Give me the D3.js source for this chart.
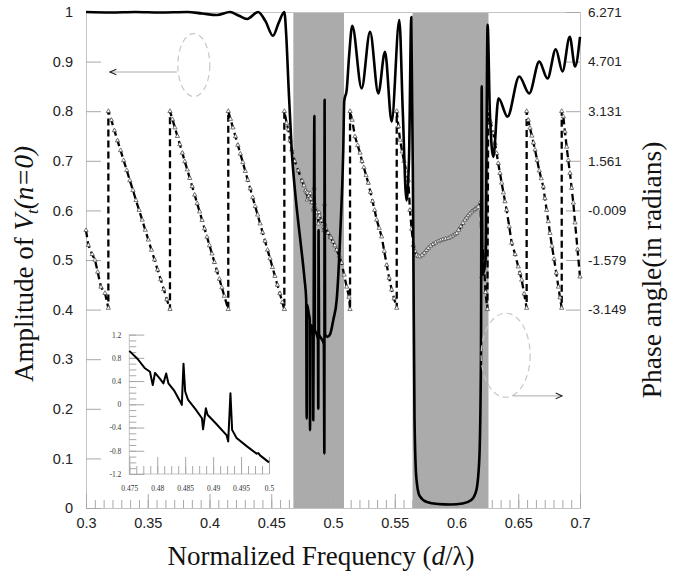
<!DOCTYPE html>
<html>
<head>
<meta charset="utf-8">
<script src="https://cdn.jsdelivr.net/npm/d3@7/dist/d3.min.js"></script>
<style>
  body { margin: 0; background: #fff; }
  svg { display: block; }
</style>
</head>
<body>
<div id="chart"></div>
<script>
// amplitude of V_t(n=0) against normalized frequency d/lambda  [freq, amplitude]
var amplitude = [
  [0.300,1.000],[0.320,0.999],[0.340,1.000],[0.360,0.999],[0.382,1.000],[0.394,0.997],[0.406,0.994],
  [0.4166,1.000],[0.4235,0.993],[0.4304,0.986],[0.4393,1.000],[0.4452,0.982],[0.4514,0.952],[0.4560,0.978],
  [0.4606,1.000],[0.4622,0.95],[0.4640,0.85],[0.4666,0.72],[0.4700,0.62],[0.4740,0.53],[0.4770,0.46],
  [0.4783,0.42],[0.4787,0.18],[0.4790,0.41],[0.4805,0.39],[0.4812,0.38],[0.4814,0.157],[0.4817,0.37],
  [0.4832,0.36],[0.4838,0.35],[0.4840,0.177],[0.4843,0.34],[0.4849,0.79],[0.4853,0.36],[0.4868,0.35],
  [0.4878,0.34],[0.4881,0.20],[0.4883,0.56],[0.4887,0.35],[0.4910,0.34],[0.4926,0.33],[0.4930,0.11],
  [0.4932,0.823],[0.4936,0.35],[0.4955,0.345],[0.4976,0.35],[0.5003,0.38],[0.5030,0.42],[0.5060,0.56],
  [0.5083,0.72],[0.5091,0.82],[0.5111,0.843],[0.5130,0.91],[0.5156,0.972],
  [0.5232,0.846],[0.5300,0.960],[0.5367,0.836],[0.5421,0.920],[0.5475,0.779],[0.5537,0.984],
  [0.5565,0.80],[0.5595,0.62],[0.5615,0.70],[0.5634,0.99],[0.5650,0.55],[0.5660,0.18],[0.5675,0.06],
  [0.5700,0.025],[0.5760,0.012],[0.5850,0.008],[0.5950,0.007],[0.6050,0.009],[0.6120,0.016],[0.6160,0.035],
  [0.6185,0.10],[0.6198,0.30],[0.6204,0.85],[0.6210,0.47],[0.6235,0.50],[0.6252,0.974],[0.6270,0.80],
  [0.6298,0.708],[0.6340,0.826],[0.6413,0.789],[0.6508,0.870],[0.6589,0.836],[0.6670,0.900],
  [0.6737,0.866],[0.6804,0.925],[0.6858,0.880],[0.6917,0.950],[0.6960,0.890],[0.7000,0.950]
];

// phase angle in radians  [freq, phase]
var phase = [
  [0.3000,-0.64],[0.3019,-1.11],[0.3050,-1.40],[0.3073,-1.58],[0.3095,-1.96],[0.3121,-2.43],[0.3154,-2.63],[0.3181,-3.10],
  [0.3181,3.13],[0.3205,2.85],[0.3230,2.52],[0.3255,2.20],[0.3280,1.89],[0.3305,1.57],[0.3330,1.26],[0.3355,0.94],
  [0.3380,0.63],[0.3405,0.31],[0.3430,0.00],[0.3455,-0.31],[0.3480,-0.63],[0.3505,-0.94],[0.3530,-1.26],[0.3555,-1.57],
  [0.3580,-1.89],[0.3605,-2.20],[0.3630,-2.51],[0.3655,-2.83],[0.3680,-3.14],
  [0.3680,3.13],[0.3700,2.87],[0.3720,2.61],[0.3740,2.34],[0.3760,2.08],[0.3780,1.81],[0.3800,1.54],[0.3820,1.28],
  [0.3840,1.01],[0.3860,0.75],[0.3880,0.48],[0.3900,0.21],[0.3920,-0.05],[0.3940,-0.32],[0.3960,-0.59],[0.3980,-0.85],
  [0.4000,-1.12],[0.4020,-1.38],[0.4040,-1.65],[0.4060,-1.92],[0.4080,-2.18],[0.4100,-2.45],[0.4120,-2.72],[0.4152,-3.14],
  [0.4152,3.13],[0.4170,2.88],[0.4190,2.61],[0.4210,2.33],[0.4230,2.06],[0.4250,1.78],[0.4270,1.51],[0.4290,1.23],
  [0.4310,0.95],[0.4330,0.68],[0.4350,0.40],[0.4370,0.12],[0.4390,-0.15],[0.4410,-0.43],[0.4430,-0.71],[0.4450,-0.98],
  [0.4470,-1.26],[0.4490,-1.53],[0.4510,-1.81],[0.4530,-2.09],[0.4550,-2.37],[0.4570,-2.64],[0.4590,-2.92],[0.4606,-3.14],
  [0.4606,3.13],[0.4625,2.75],[0.4638,2.55],[0.4652,2.20],[0.4666,1.91],[0.4690,1.55],[0.4719,1.25],[0.4750,0.92],
  [0.4765,0.78],[0.4778,0.62],[0.4787,0.56],[0.4792,0.33],[0.4796,0.54],[0.4804,0.45],[0.4811,0.36],[0.4816,0.53],
  [0.4820,0.36],[0.4830,0.24],[0.4841,0.05],[0.4844,-0.01],[0.4847,0.70],[0.4850,0.22],[0.4855,0.08],[0.4868,-0.08],
  [0.4880,-0.24],[0.4882,-0.43],[0.4887,-0.07],[0.4890,-0.18],[0.4905,-0.33],[0.4924,-0.53],[0.4927,-0.64],[0.4931,0.19],
  [0.4934,-0.44],[0.4942,-0.58],[0.4960,-0.72],[0.4978,-0.85],[0.4981,-0.84],[0.4984,-0.88],[0.5000,-1.00],[0.5015,-1.12],
  [0.5030,-1.26],[0.5050,-1.45],[0.5070,-1.67],[0.5090,-2.05],[0.5111,-2.43],[0.5130,-2.75],[0.5138,-3.14],
  [0.5138,3.13],[0.5155,2.85],[0.5178,2.33],[0.5200,2.05],[0.5219,1.81],[0.5235,1.55],[0.5250,1.35],[0.5268,1.10],
  [0.5286,0.86],[0.5303,0.57],[0.5320,0.28],[0.5337,0.00],[0.5354,-0.31],[0.5374,-0.57],[0.5394,-0.84],[0.5415,-1.30],
  [0.5435,-1.74],[0.5455,-2.15],[0.5475,-2.52],[0.5495,-2.80],[0.5516,-3.10],
  [0.5516,3.13],[0.5530,2.65],[0.5543,2.22],[0.5560,1.85],[0.5575,1.55],[0.5593,1.25],[0.5610,0.95],[0.5623,0.00],
  [0.5637,-0.60],[0.5650,-1.11],[0.5664,-1.30],[0.5678,-1.42],[0.5691,-1.46],[0.5704,-1.47],[0.5722,-1.42],[0.5740,-1.35],
  [0.5756,-1.27],[0.5772,-1.20],[0.5791,-1.13],[0.5810,-1.08],[0.5831,-1.03],[0.5853,-0.99],[0.5871,-0.96],[0.5890,-0.93],
  [0.5912,-0.91],[0.5934,-0.89],[0.5952,-0.85],[0.5970,-0.81],[0.5986,-0.77],[0.6002,-0.73],[0.6018,-0.63],[0.6035,-0.52],
  [0.6052,-0.41],[0.6069,-0.31],[0.6082,-0.24],[0.6095,-0.17],[0.6109,-0.11],[0.6123,-0.05],[0.6137,-0.01],[0.6150,0.03],
  [0.6164,0.07],[0.6177,0.10],[0.6195,0.25],[0.6205,-2.10],[0.6215,-1.20],[0.6235,-2.60],[0.6250,-3.14],
  [0.6257,3.13],[0.6275,2.80],[0.6298,2.44],[0.6312,2.12],[0.6325,1.80],[0.6338,1.48],[0.6352,1.17],[0.6366,0.86],
  [0.6380,0.55],[0.6393,0.27],[0.6406,0.00],[0.6427,-0.52],[0.6447,-1.04],[0.6475,-1.40],[0.6500,-1.79],[0.6514,-2.00],
  [0.6528,-2.21],[0.6548,-2.65],[0.6568,-3.10],
  [0.6568,3.13],[0.6581,2.85],[0.6595,2.60],[0.6610,2.35],[0.6623,2.13],[0.6636,1.91],[0.6653,1.58],[0.6670,1.25],
  [0.6686,1.00],[0.6703,0.74],[0.6716,0.37],[0.6730,0.00],[0.6743,-0.36],[0.6757,-0.73],[0.6773,-1.14],[0.6790,-1.55],
  [0.6808,-1.99],[0.6825,-2.43],[0.6838,-2.77],[0.6852,-3.10],
  [0.6852,3.13],[0.6865,2.96],[0.6878,2.48],[0.6892,2.00],[0.6905,1.58],[0.6919,1.17],[0.6932,0.70],[0.6946,0.23],
  [0.6960,-0.40],[0.6980,-1.25],[0.7000,-2.11]
];

// stop bands (shaded)
var bands = [[0.4679, 0.5089], [0.5644, 0.6259]];

// tick labels
var xTicks = [0.3, 0.35, 0.4, 0.45, 0.5, 0.55, 0.6, 0.65, 0.7];
var ampTicks = [0, 0.1, 0.2, 0.3, 0.4, 0.5, 0.6, 0.7, 0.8, 0.9, 1];
var phaseTicks = [-3.149, -1.579, -0.009, 1.561, 3.131, 4.701, 6.271];
var insetXTicks = [0.475, 0.48, 0.485, 0.49, 0.495, 0.5];
var insetYTicks = [-1.2, -0.8, -0.4, 0, 0.4, 0.8, 1.2];

var W = 682, H = 576;
var sans = "'Liberation Sans', Arial, sans-serif";
var serif = "'Liberation Serif', 'Times New Roman', serif";
var light = "#c4c4c4";

var svg = d3.select("#chart").append("svg")
  .attr("width", W)
  .attr("height", H);

var x = d3.scaleLinear().domain([0.3, 0.7]).range([86, 580]);
var y = d3.scaleLinear().domain([0, 1]).range([508, 12]);
// phase shares the right side, from amplitude 0.4 up to 1
var yPh = d3.scaleLinear().domain([-3.149, 6.271]).range([y(0.4), y(1)]);

// shaded bands
svg.selectAll("rect.band")
  .data(bands)
  .enter()
  .append("rect")
  .attr("class", "band")
  .attr("x", d => x(d[0]))
  .attr("y", y(1))
  .attr("width", d => x(d[1]) - x(d[0]))
  .attr("height", y(0) - y(1))
  .attr("fill", "#ababab");

// frame
svg.append("rect")
  .attr("x", x(0.3) + 0.5)
  .attr("y", y(1) + 0.5)
  .attr("width", x(0.7) - x(0.3))
  .attr("height", y(0) - y(1))
  .attr("fill", "none")
  .attr("stroke", light)
  .attr("stroke-width", 1);

function styleAxis(g, size, family) {
  g.select(".domain").remove();
  g.selectAll(".tick line").attr("stroke", "#a8a8a8").attr("stroke-width", 1);
  g.selectAll("text").attr("fill", "#222").style("font-family", family).style("font-size", size + "px");
}

// left axis
svg.append("g")
  .attr("transform", "translate(" + x(0.3) + ",0)")
  .call(d3.axisLeft(y).tickValues(ampTicks).tickSize(-15).tickPadding(13).tickFormat(d => String(d)))
  .call(g => styleAxis(g, 14.5, sans));

// right axis
svg.append("g")
  .attr("transform", "translate(" + x(0.7) + ",0)")
  .call(d3.axisRight(yPh).tickValues(phaseTicks).tickSize(-14).tickPadding(8).tickFormat(d => d.toFixed(3)))
  .call(g => styleAxis(g, 13.5, sans));

// bottom axis, minor then major
var xMinor = d3.range(0, 57).map(i => 0.3 + i * 0.05 / 7);
svg.append("g")
  .attr("transform", "translate(0," + y(0) + ")")
  .call(d3.axisBottom(x).tickValues(xMinor).tickSize(-8).tickFormat(""))
  .call(g => styleAxis(g, 14, sans));
svg.append("g")
  .attr("transform", "translate(0," + y(0) + ")")
  .call(d3.axisBottom(x).tickValues(xTicks).tickSize(-14).tickPadding(10).tickFormat(d => String(d)))
  .call(g => styleAxis(g, 14.5, sans));

// phase: dashed sawtooth with open triangles
var phLine = d3.line()
  .x(d => x(d[0]))
  .y(d => yPh(d[1]));

svg.append("path")
  .datum(phase)
  .attr("d", phLine)
  .attr("fill", "none")
  .attr("stroke", "#000")
  .attr("stroke-width", 2.3)
  .attr("stroke-dasharray", "7,4");

svg.selectAll("path.tri")
  .data(phase)
  .enter()
  .append("path")
  .attr("class", "tri")
  .attr("d", d3.symbol().type(d3.symbolTriangle).size(8))
  .attr("transform", d => "translate(" + x(d[0]) + "," + yPh(d[1]) + ")")
  .attr("fill", "#fff")
  .attr("stroke", "#444")
  .attr("stroke-width", 0.7);

// amplitude: thick solid line
var ampLine = d3.line()
  .x(d => x(d[0]))
  .y(d => y(d[1]))
  .curve(d3.curveMonotoneX);

svg.append("path")
  .datum(amplitude)
  .attr("d", ampLine)
  .attr("fill", "none")
  .attr("stroke", "#000")
  .attr("stroke-width", 2.6)
  .attr("stroke-linejoin", "round");

// inset: zoom of the phase inside the first band
var xi = d3.scaleLinear().domain([0.475, 0.5]).range([129.3, 269]);
var yi = d3.scaleLinear().domain([-1.2, 1.2]).range([474, 334.6]);
var inset = svg.append("g");

inset.append("line")
  .attr("x1", xi(0.475)).attr("x2", xi(0.475))
  .attr("y1", yi(1.2)).attr("y2", yi(-1.2))
  .attr("stroke", light);
inset.append("line")
  .attr("x1", xi(0.475)).attr("x2", xi(0.5))
  .attr("y1", yi(-1.2)).attr("y2", yi(-1.2))
  .attr("stroke", light);

var yiMinor = d3.range(0, 25).map(i => -1.2 + i * 0.1);
inset.append("g")
  .attr("transform", "translate(" + xi(0.475) + ",0)")
  .call(d3.axisLeft(yi).tickValues(yiMinor).tickSize(-7).tickFormat(""))
  .call(g => styleAxis(g, 8, serif));
inset.append("g")
  .attr("transform", "translate(" + xi(0.475) + ",0)")
  .call(d3.axisLeft(yi).tickValues(insetYTicks).tickSize(-15).tickPadding(8).tickFormat(d => String(d)))
  .call(g => styleAxis(g, 7.5, serif));

var xiMinor = d3.range(0, 21).map(i => 0.475 + i * 0.00125);
inset.append("g")
  .attr("transform", "translate(0," + yi(-1.2) + ")")
  .call(d3.axisBottom(xi).tickValues(xiMinor).tickSize(-8).tickFormat(""))
  .call(g => styleAxis(g, 8, serif));
inset.append("g")
  .attr("transform", "translate(0," + yi(-1.2) + ")")
  .call(d3.axisBottom(xi).tickValues(insetXTicks).tickSize(-17).tickPadding(12).tickFormat(d => String(d)))
  .call(g => styleAxis(g, 7.5, serif));

inset.selectAll("text").attr("fill", "#333");

inset.append("path")
  .datum(phase.filter(d => d[0] >= 0.475 && d[0] <= 0.5))
  .attr("d", d3.line().x(d => xi(d[0])).y(d => yi(d[1])))
  .attr("fill", "none")
  .attr("stroke", "#000")
  .attr("stroke-width", 2)
  .attr("stroke-linejoin", "round");

// dashed ellipses with arrows pointing to the axes
var defs = svg.append("defs");
defs.append("marker")
  .attr("id", "head")
  .attr("viewBox", "0 0 10 10")
  .attr("refX", 9)
  .attr("refY", 5)
  .attr("markerWidth", 8)
  .attr("markerHeight", 8)
  .attr("markerUnits", "userSpaceOnUse")
  .attr("orient", "auto")
  .append("path")
  .attr("d", "M1,1.5 L9,5 L1,8.5")
  .attr("fill", "none")
  .attr("stroke", "#222")
  .attr("stroke-width", 1.4);

var notes = [
  { cx: 0.3873, cy: 0.893, rx: 16, ry: 31.5, from: 0.3735, to: 0.3194, ay: 0.879 },
  { cx: 0.6398, cy: 0.308, rx: 24.5, ry: 42, from: 0.6454, to: 0.6855, ay: 0.226 }
];

notes.forEach(function(n) {
  svg.append("ellipse")
    .attr("cx", x(n.cx))
    .attr("cy", y(n.cy))
    .attr("rx", n.rx)
    .attr("ry", n.ry)
    .attr("fill", "none")
    .attr("stroke", "#c8c8c8")
    .attr("stroke-width", 1.2)
    .attr("stroke-dasharray", "6,4");
  svg.append("line")
    .attr("x1", x(n.from))
    .attr("x2", x(n.to))
    .attr("y1", y(n.ay))
    .attr("y2", y(n.ay))
    .attr("stroke", "#aaa")
    .attr("stroke-width", 1)
    .attr("marker-end", "url(#head)");
});

// axis titles
var xTitle = svg.append("text")
  .attr("x", 321)
  .attr("y", 565)
  .attr("text-anchor", "middle")
  .style("font-family", serif)
  .style("font-size", "27px")
  .attr("fill", "#111");
xTitle.append("tspan").text("Normalized Frequency (");
xTitle.append("tspan").style("font-style", "italic").text("d");
xTitle.append("tspan").text("/λ)");

var yTitle = svg.append("text")
  .attr("transform", "translate(33,264) rotate(-90)")
  .attr("text-anchor", "middle")
  .style("font-family", serif)
  .style("font-size", "27px")
  .attr("fill", "#111");
yTitle.append("tspan").text("Amplitude of ");
yTitle.append("tspan").style("font-style", "italic").text("V");
yTitle.append("tspan").style("font-style", "italic").style("font-size", "17px").attr("dy", 5).text("t");
yTitle.append("tspan").style("font-style", "italic").attr("dy", -5).text("(n=0)");

svg.append("text")
  .attr("transform", "translate(661,270) rotate(-90)")
  .attr("text-anchor", "middle")
  .style("font-family", serif)
  .style("font-size", "27.5px")
  .attr("fill", "#111")
  .text("Phase angle(in radians)");
</script>
</body>
</html>
